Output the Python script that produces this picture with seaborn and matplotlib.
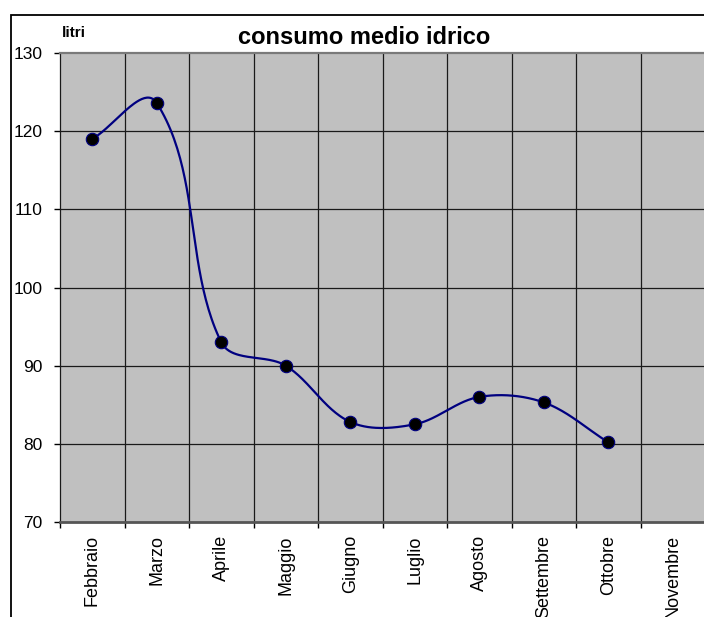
import numpy as np
import pandas as pd
import matplotlib
matplotlib.use("Agg")
import matplotlib.pyplot as plt
from matplotlib.patches import Rectangle
import seaborn as sns

# Monthly average water consumption (litres)
mesi = ["Febbraio", "Marzo", "Aprile", "Maggio", "Giugno",
        "Luglio", "Agosto", "Settembre", "Ottobre", "Novembre"]
consumo = [119.0, 123.6, 93.0, 90.0, 82.8, 82.5, 86.0, 85.3, 80.2]
y_ticks = [70, 80, 90, 100, 110, 120, 130]

sns.set_theme(style="white")
plt.rcParams["font.family"] = ["Liberation Sans", "DejaVu Sans"]
plt.rcParams["text.color"] = "black"
plt.rcParams["xtick.color"] = "black"
plt.rcParams["ytick.color"] = "black"

W, H = 704, 617
fig = plt.figure(figsize=(W / 100, H / 100), dpi=100)
ax = fig.add_axes([60 / W, 1 - 522 / H, 645 / W, 469 / H])
ax.set_facecolor("#C0C0C0")
ax.set_xlim(-0.5, len(mesi) - 0.5)
ax.set_ylim(70, 130)


def smooth_curve(ax, xs, ys, k=1 / 3, n=50):
    """Bezier smoothing through the points, built in screen space:
    tangent direction from the neighbours, handle length scaled by
    the length of each segment."""
    pts = ax.transData.transform(np.column_stack([xs, ys]).astype(float))
    m = len(pts)
    dirs = []
    for i in range(m):
        a = pts[max(i - 1, 0)]
        b = pts[min(i + 1, m - 1)]
        d = b - a
        dirs.append(d / np.hypot(*d))
    out = []
    for i in range(m - 1):
        p1, p2 = pts[i], pts[i + 1]
        seg_len = np.hypot(*(p2 - p1))
        c1 = p1 + dirs[i] * seg_len * k
        c2 = p2 - dirs[i + 1] * seg_len * k
        t = np.linspace(0, 1, n)[:, None]
        seg = ((1 - t) ** 3) * p1 + 3 * ((1 - t) ** 2) * t * c1 \
            + 3 * (1 - t) * t ** 2 * c2 + t ** 3 * p2
        out.append(seg if i == 0 else seg[1:])
    return ax.transData.inverted().transform(np.vstack(out))


xpos = np.arange(len(consumo))
curve = smooth_curve(ax, xpos, consumo)
curve_df = pd.DataFrame({"x": curve[:, 0], "y": curve[:, 1]})
points_df = pd.DataFrame({"x": xpos, "y": consumo})

# grid at category boundaries and at every 10 litres
for b in np.arange(0.5, len(mesi) - 0.5, 1.0):
    ax.axvline(b, color="#1a1a1a", lw=0.9, zorder=1)
for v in y_ticks[1:-1]:
    ax.axhline(v, color="#1a1a1a", lw=0.9, zorder=1)

sns.lineplot(data=curve_df, x="x", y="y", sort=False, estimator=None,
             color="#000080", lw=1.6, ax=ax, zorder=3)
sns.scatterplot(data=points_df, x="x", y="y", s=80, color="black",
                edgecolor="#000080", linewidth=0.8, ax=ax, zorder=4)

ax.set_xlim(-0.5, len(mesi) - 0.5)
ax.set_ylim(70, 130)
ax.set_xlabel("")
ax.set_ylabel("")

ax.set_yticks(y_ticks)
ax.set_yticklabels([str(v) for v in y_ticks], fontsize=12.5)
ax.set_xticks(np.arange(len(mesi)))
ax.set_xticklabels(mesi, rotation=90, fontsize=13, va="top", ha="center")
ax.set_xticks(np.arange(-0.5, len(mesi) + 0.5, 1.0), minor=True)
ax.tick_params(axis="x", which="major", length=0, pad=9.5)
ax.tick_params(axis="x", which="minor", length=4.5, width=1.0,
               color="black", direction="out", bottom=True)
ax.tick_params(axis="y", which="major", length=4.5, width=1.0,
               color="black", direction="out", pad=8, left=True)

ax.spines["top"].set_color("#7a7a7a")
ax.spines["top"].set_linewidth(1.6)
ax.spines["bottom"].set_color("#555555")
ax.spines["bottom"].set_linewidth(2.0)
ax.spines["left"].set_color("#1a1a1a")
ax.spines["left"].set_linewidth(0.9)
ax.spines["right"].set_visible(False)

# chart frame
fig.patches.append(Rectangle((11 / W, -0.1), 1.0, 1 - 15 / H + 0.1,
                             transform=fig.transFigure, fill=False,
                             edgecolor="black", lw=1.3, zorder=0))

fig.text(364 / W, 1 - 38 / H, "consumo medio idrico", fontsize=17,
         fontweight="bold", ha="center", va="center")
fig.text(62 / W, 1 - 33 / H, "litri", fontsize=11, fontweight="bold",
         ha="left", va="center")

fig.savefig("out.png", dpi=100)
